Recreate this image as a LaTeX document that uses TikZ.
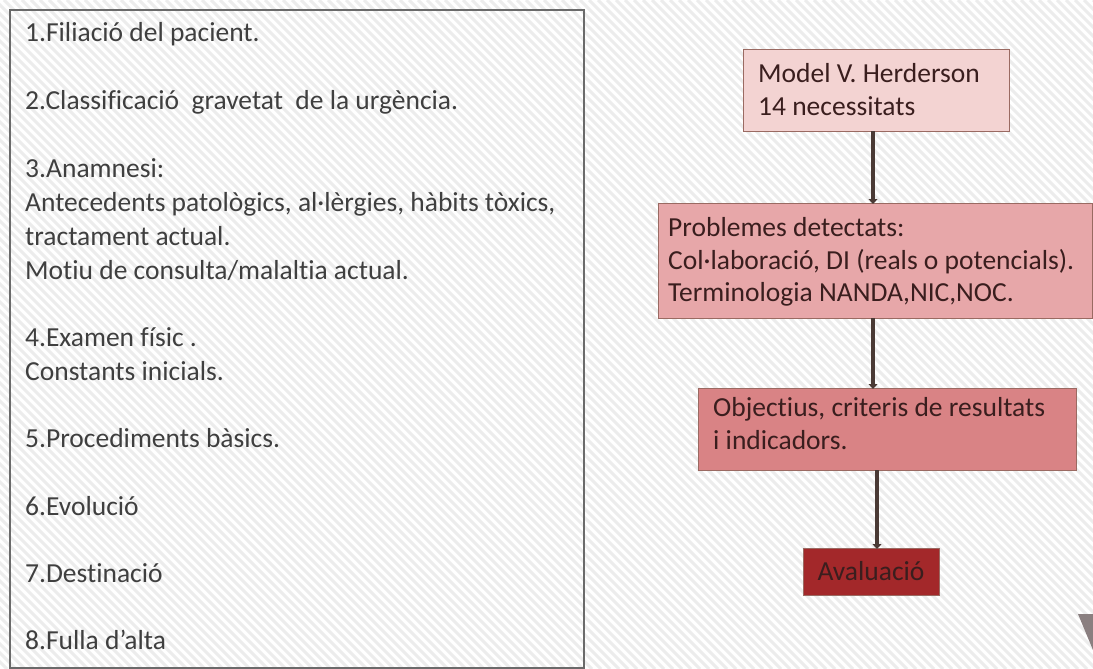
\documentclass[tikz,border=0pt]{standalone}
\usepackage{fontspec}
\setmainfont{Carlito}[Ligatures=NoCommon]
\usetikzlibrary{arrows.meta}
\definecolor{stripe}{HTML}{ECECEC}
\definecolor{frame}{HTML}{6A6A6A}
\definecolor{listtext}{HTML}{3F3F3F}
\definecolor{boxtext}{HTML}{3A1E1E}
\definecolor{pinkA}{HTML}{F3D3D2}
\definecolor{pinkB}{HTML}{E7A7A9}
\definecolor{pinkC}{HTML}{D98385}
\definecolor{redD}{HTML}{A3282A}
\definecolor{edge}{HTML}{9A6A62}
\definecolor{link}{HTML}{4A3A35}
\definecolor{chevron}{HTML}{8A7F80}
\tikzset{
  item/.style={anchor=base west, inner sep=0pt, text=listtext, font=\fontsize{27.5}{34}\selectfont},
  boxline/.style={anchor=base west, inner sep=0pt, text=boxtext, font=\fontsize{27.5}{34}\selectfont},
  stepbox/.style={draw=edge, line width=0.8pt},
  flow/.style={draw=link, line width=4.5pt, -{Triangle[length=5pt,width=9pt]}, shorten >=-1pt}
}
\begin{document}
\begin{tikzpicture}[x=1pt,y=-1pt]
\useasboundingbox (0,0) rectangle (1093,669);
\fill[white] (0,0) rectangle (1093,669);
% hatched background
\begin{scope}
\clip (0,0) rectangle (1093,669);
\foreach \s in {-680,-671,...,1100}{
  \draw[stripe, line width=3pt] (\s,0) -- (\s+669,669);
}
\end{scope}

% left list panel
\draw[frame, line width=1.6pt] (10,10) rectangle (584,668);
\node[item] (i1)  at (25,42)  {1.Filiació del pacient.};
\node[item] (i2)  at (25,110) {2.Classificació\ \ gravetat\ \ de la urgència.};
\node[item] (i3a) at (25,177) {3.Anamnesi:};
\node[item] (i3b) at (25,211) {Antecedents patològics, al·lèrgies, hàbits tòxics,};
\node[item] (i3c) at (25,245) {tractament actual.};
\node[item] (i3d) at (25,279) {Motiu de consulta/malaltia actual.};
\node[item] (i4a) at (25,346) {4.Examen físic .};
\node[item] (i4b) at (25,380) {Constants inicials.};
\node[item] (i5)  at (25,447) {5.Procediments bàsics.};
\node[item] (i6)  at (25,515) {6.Evolució};
\node[item] (i7)  at (25,582) {7.Destinació};
\node[item] (i8)  at (25,649) {8.Fulla d’alta};

% flow boxes
\draw[stepbox, fill=pinkA] (743,49) rectangle (1009,131);
\coordinate (b1s) at (873,131);
\coordinate (b2n) at (873,203);
\node[boxline] (t1a) at (758,82)  {Model V. Herderson};
\node[boxline] (t1b) at (758,115) {14 necessitats};

\draw[stepbox, fill=pinkB] (658,203) rectangle (1092,318);
\coordinate (b2s) at (873,318);
\coordinate (b3n) at (873,388);
\node[boxline] (t2a) at (668,236) {Problemes detectats:};
\node[boxline] (t2b) at (668,269) {Col·laboració, DI (reals o potencials).};
\node[boxline] (t2c) at (668,301) {Terminologia NANDA,NIC,NOC.};

\draw[stepbox, fill=pinkC] (698,388) rectangle (1076,470);
\coordinate (b3s) at (877,470);
\coordinate (b4n) at (877,548);
\node[boxline] (t3a) at (713,416) {Objectius, criteris de resultats};
\node[boxline] (t3b) at (713,449) {i indicadors.};

\node[stepbox, fill=redD, minimum width=136pt, minimum height=47pt, inner sep=0pt,
      text=boxtext, font=\fontsize{27.5}{30}\selectfont] (b4) at (871,571.5) {Avaluació};

% connectors
\draw[flow] (b1s) -- (b2n);
\draw[flow] (b2s) -- (b3n);
\draw[flow] (b3s) -- (b4n);

% corner chevron
\fill[chevron] (1078,614) -- (1093,614) -- (1093,650) -- cycle;
\end{tikzpicture}
\end{document}
